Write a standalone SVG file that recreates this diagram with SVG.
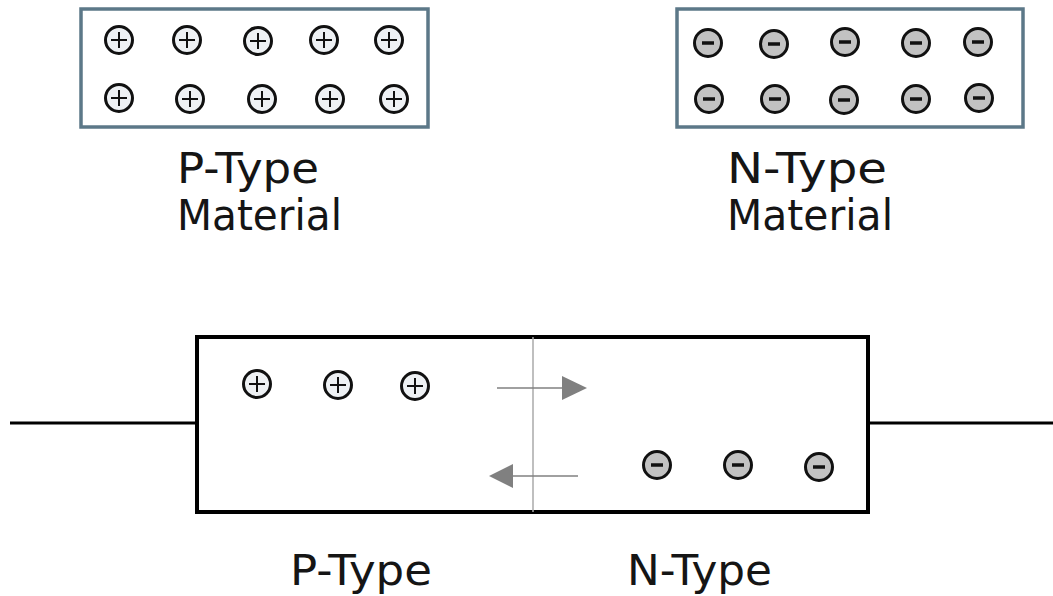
<svg xmlns="http://www.w3.org/2000/svg" width="1053" height="596" viewBox="0 0 1053 596">
<defs>
<style>
.box{fill:#fff;stroke:#5c7888;stroke-width:3.5}
.dev{fill:#fff;stroke:#000;stroke-width:4}
.wire{stroke:#000;stroke-width:3;fill:none}
.lbl{font-family:"DejaVu Sans","Liberation Sans",sans-serif;font-size:42px;fill:#151515}
.div{stroke:#aaaaaa;stroke-width:1.5}
.arr{stroke:#808080;stroke-width:1.6}
.head{fill:#808080}
</style>
<g id="hole">
<circle r="13.5" fill="#eef1f4" stroke="#111" stroke-width="3"/>
<path d="M-8 0H8M0 -8V8" stroke="#111" stroke-width="2"/>
</g>
<g id="elec">
<circle r="13.5" fill="#c2c2c2" stroke="#111" stroke-width="3"/>
<path d="M-6 0H6" stroke="#111" stroke-width="3.5"/>
</g>
</defs>
<rect width="1053" height="596" fill="#fff"/>

<g id="p-material">
<rect class="box" x="81" y="9" width="347" height="118"/>
<use href="#hole" x="119" y="40"/><use href="#hole" x="187" y="40"/><use href="#hole" x="258" y="41"/><use href="#hole" x="324" y="40"/><use href="#hole" x="389" y="40"/>
<use href="#hole" x="119" y="98"/><use href="#hole" x="190" y="99"/><use href="#hole" x="262" y="99"/><use href="#hole" x="330" y="99"/><use href="#hole" x="394" y="99"/>
<text class="lbl" x="177" y="183" textLength="142" lengthAdjust="spacingAndGlyphs">P-Type</text>
<text class="lbl" x="177" y="230" textLength="165" lengthAdjust="spacingAndGlyphs">Material</text>
</g>

<g id="n-material">
<rect class="box" x="677" y="9" width="346" height="118"/>
<use href="#elec" x="708" y="43"/><use href="#elec" x="774" y="44"/><use href="#elec" x="845" y="42"/><use href="#elec" x="916" y="43"/><use href="#elec" x="978" y="42"/>
<use href="#elec" x="709" y="99"/><use href="#elec" x="775" y="99"/><use href="#elec" x="844" y="100"/><use href="#elec" x="916" y="99"/><use href="#elec" x="979" y="98"/>
<text class="lbl" x="727" y="183" textLength="160" lengthAdjust="spacingAndGlyphs">N-Type</text>
<text class="lbl" x="727" y="230" textLength="166" lengthAdjust="spacingAndGlyphs">Material</text>
</g>

<g id="connectors">
<line class="wire" x1="10" y1="423" x2="197" y2="423"/>
<line class="wire" x1="868" y1="423" x2="1053" y2="423"/>
</g>

<g id="junction">
<rect class="dev" x="197" y="337" width="671" height="175"/>
<line class="div" x1="533" y1="337" x2="533" y2="512"/>
<use href="#hole" x="257" y="384"/><use href="#hole" x="338" y="385"/><use href="#hole" x="415" y="386"/>
<use href="#elec" x="657" y="465"/><use href="#elec" x="738" y="465"/><use href="#elec" x="819" y="467"/>
</g>

<g id="arrows">
<line class="arr" x1="497" y1="388" x2="565" y2="388"/>
<polygon class="head" points="562,376 587,388 562,400"/>
<line class="arr" x1="578" y1="476" x2="510" y2="476"/>
<polygon class="head" points="513,464 489,476 513,488"/>
</g>

<g id="labels">
<text class="lbl" x="290" y="585" textLength="142" lengthAdjust="spacingAndGlyphs">P-Type</text>
<text class="lbl" x="627" y="585" textLength="145" lengthAdjust="spacingAndGlyphs">N-Type</text>
</g>
</svg>
